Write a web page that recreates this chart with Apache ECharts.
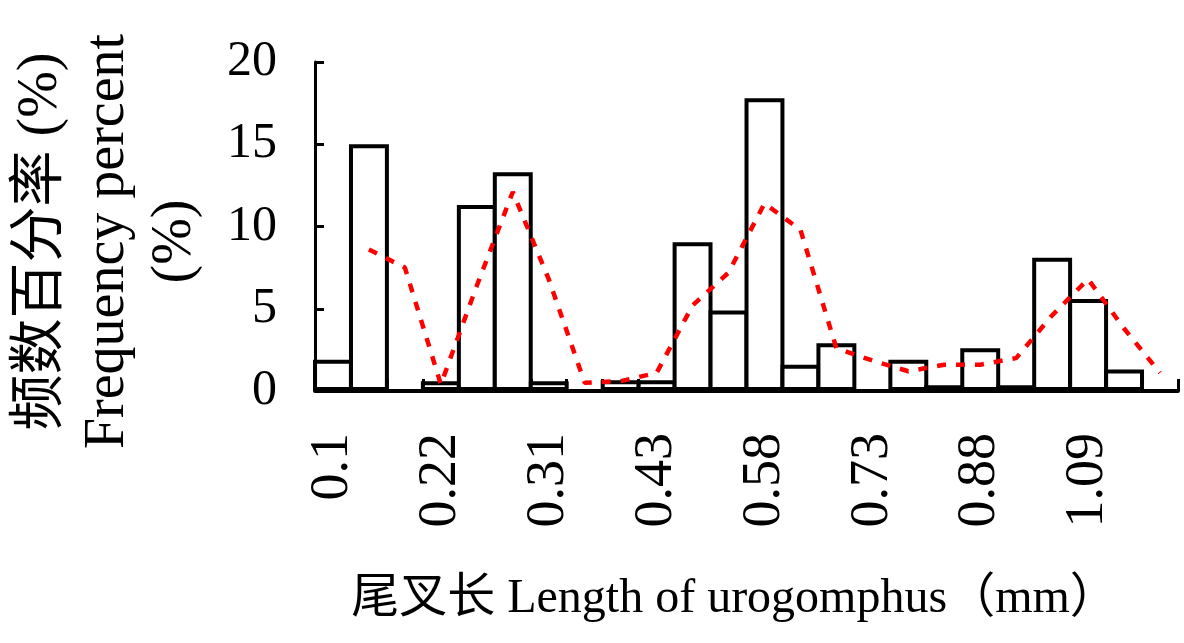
<!DOCTYPE html>
<html>
<head>
<meta charset="utf-8">
<script src="https://cdn.jsdelivr.net/npm/echarts@6/dist/echarts.min.js"></script>
<style>
html,body{margin:0;padding:0;background:#ffffff;}
#chart{width:1184px;height:643px;}
</style>
</head>
<body>
<div id="chart"></div>
<script>
// Category (bin) labels; only every third bin is labelled in the reference
const categories = ['0.1','','','0.22','','','0.31','','','0.43','','','0.58','','','0.73','','','0.88','','','1.09','',''];
// Frequency percent per bin (bars)
const frequency = [1.9, 15.0, 0, 0.6, 11.3, 13.3, 0.6, 0, 0.65, 0.65, 9.05, 4.9, 17.8, 1.6, 2.9, 0, 1.9, 0.35, 2.6, 0.35, 8.1, 5.6, 1.3, 0];
// Red dashed trend line values
const trend = [null, 8.6, 7.5, 0.4, 6.4, 12.1, 6.8, 0.5, 0.6, 1.1, 5.2, 7.2, 11.4, 9.8, 2.6, 1.85, 1.2, 1.6, 1.6, 2.0, 4.6, 6.8, 3.8, 1.1];
// Y axis ticks
const yMin = 0, yMax = 20, yStep = 5;
const xTitle = '尾叉长 Length of urogomphus（mm）';
const yTitle = '频数百分率 (%)\nFrequency percent\n(%)';

const serif = '"Liberation Serif","Times New Roman","Noto Sans CJK SC",serif';
const chart = echarts.init(document.getElementById('chart'), null, {renderer: 'canvas'});
chart.setOption({
  animation: false,
  backgroundColor: '#ffffff',
  grid: {left: 312, right: 6, top: 62, bottom: 252, containLabel: false},
  xAxis: {
    type: 'category',
    data: categories,
    boundaryGap: true,
    name: xTitle,
    nameLocation: 'middle',
    nameGap: 184,
    nameTextStyle: {fontFamily: serif, fontSize: 48, color: '#000', padding: [0, 24, 0, 0]},
    axisLine: {show: true, lineStyle: {color: '#000', width: 4}},
    axisTick: {show: true, inside: true, length: 12, interval: 0, lineStyle: {color: '#000', width: 3}},
    axisLabel: {
      show: true, interval: 2, rotate: 90, margin: 42,
      fontFamily: serif, fontSize: 54, color: '#000'
    },
    splitLine: {show: false}
  },
  yAxis: {
    type: 'value',
    min: yMin, max: yMax, interval: yStep,
    name: yTitle,
    nameLocation: 'middle',
    nameRotate: 90,
    nameGap: 106,
    nameTextStyle: {fontFamily: serif, fontSize: 56, lineHeight: 67, color: '#000', align: 'center', padding: [0, 30, 0, 0]},
    axisLine: {show: true, lineStyle: {color: '#000', width: 3}},
    axisTick: {show: true, inside: true, length: 9, lineStyle: {color: '#000', width: 3}},
    axisLabel: {margin: 38, fontFamily: serif, fontSize: 50, color: '#000'},
    splitLine: {show: false}
  },
  series: [
    {
      type: 'bar',
      data: frequency,
      barCategoryGap: '-11%',
      barGap: '0%',
      itemStyle: {color: '#ffffff', borderColor: '#000000', borderWidth: 4},
      z: 2
    },
    {
      type: 'line',
      data: trend,
      showSymbol: false,
      symbol: 'none',
      connectNulls: false,
      lineStyle: {color: '#ff0000', width: 4.5, type: [9, 10]},
      z: 3
    }
  ]
});
</script>
</body>
</html>
